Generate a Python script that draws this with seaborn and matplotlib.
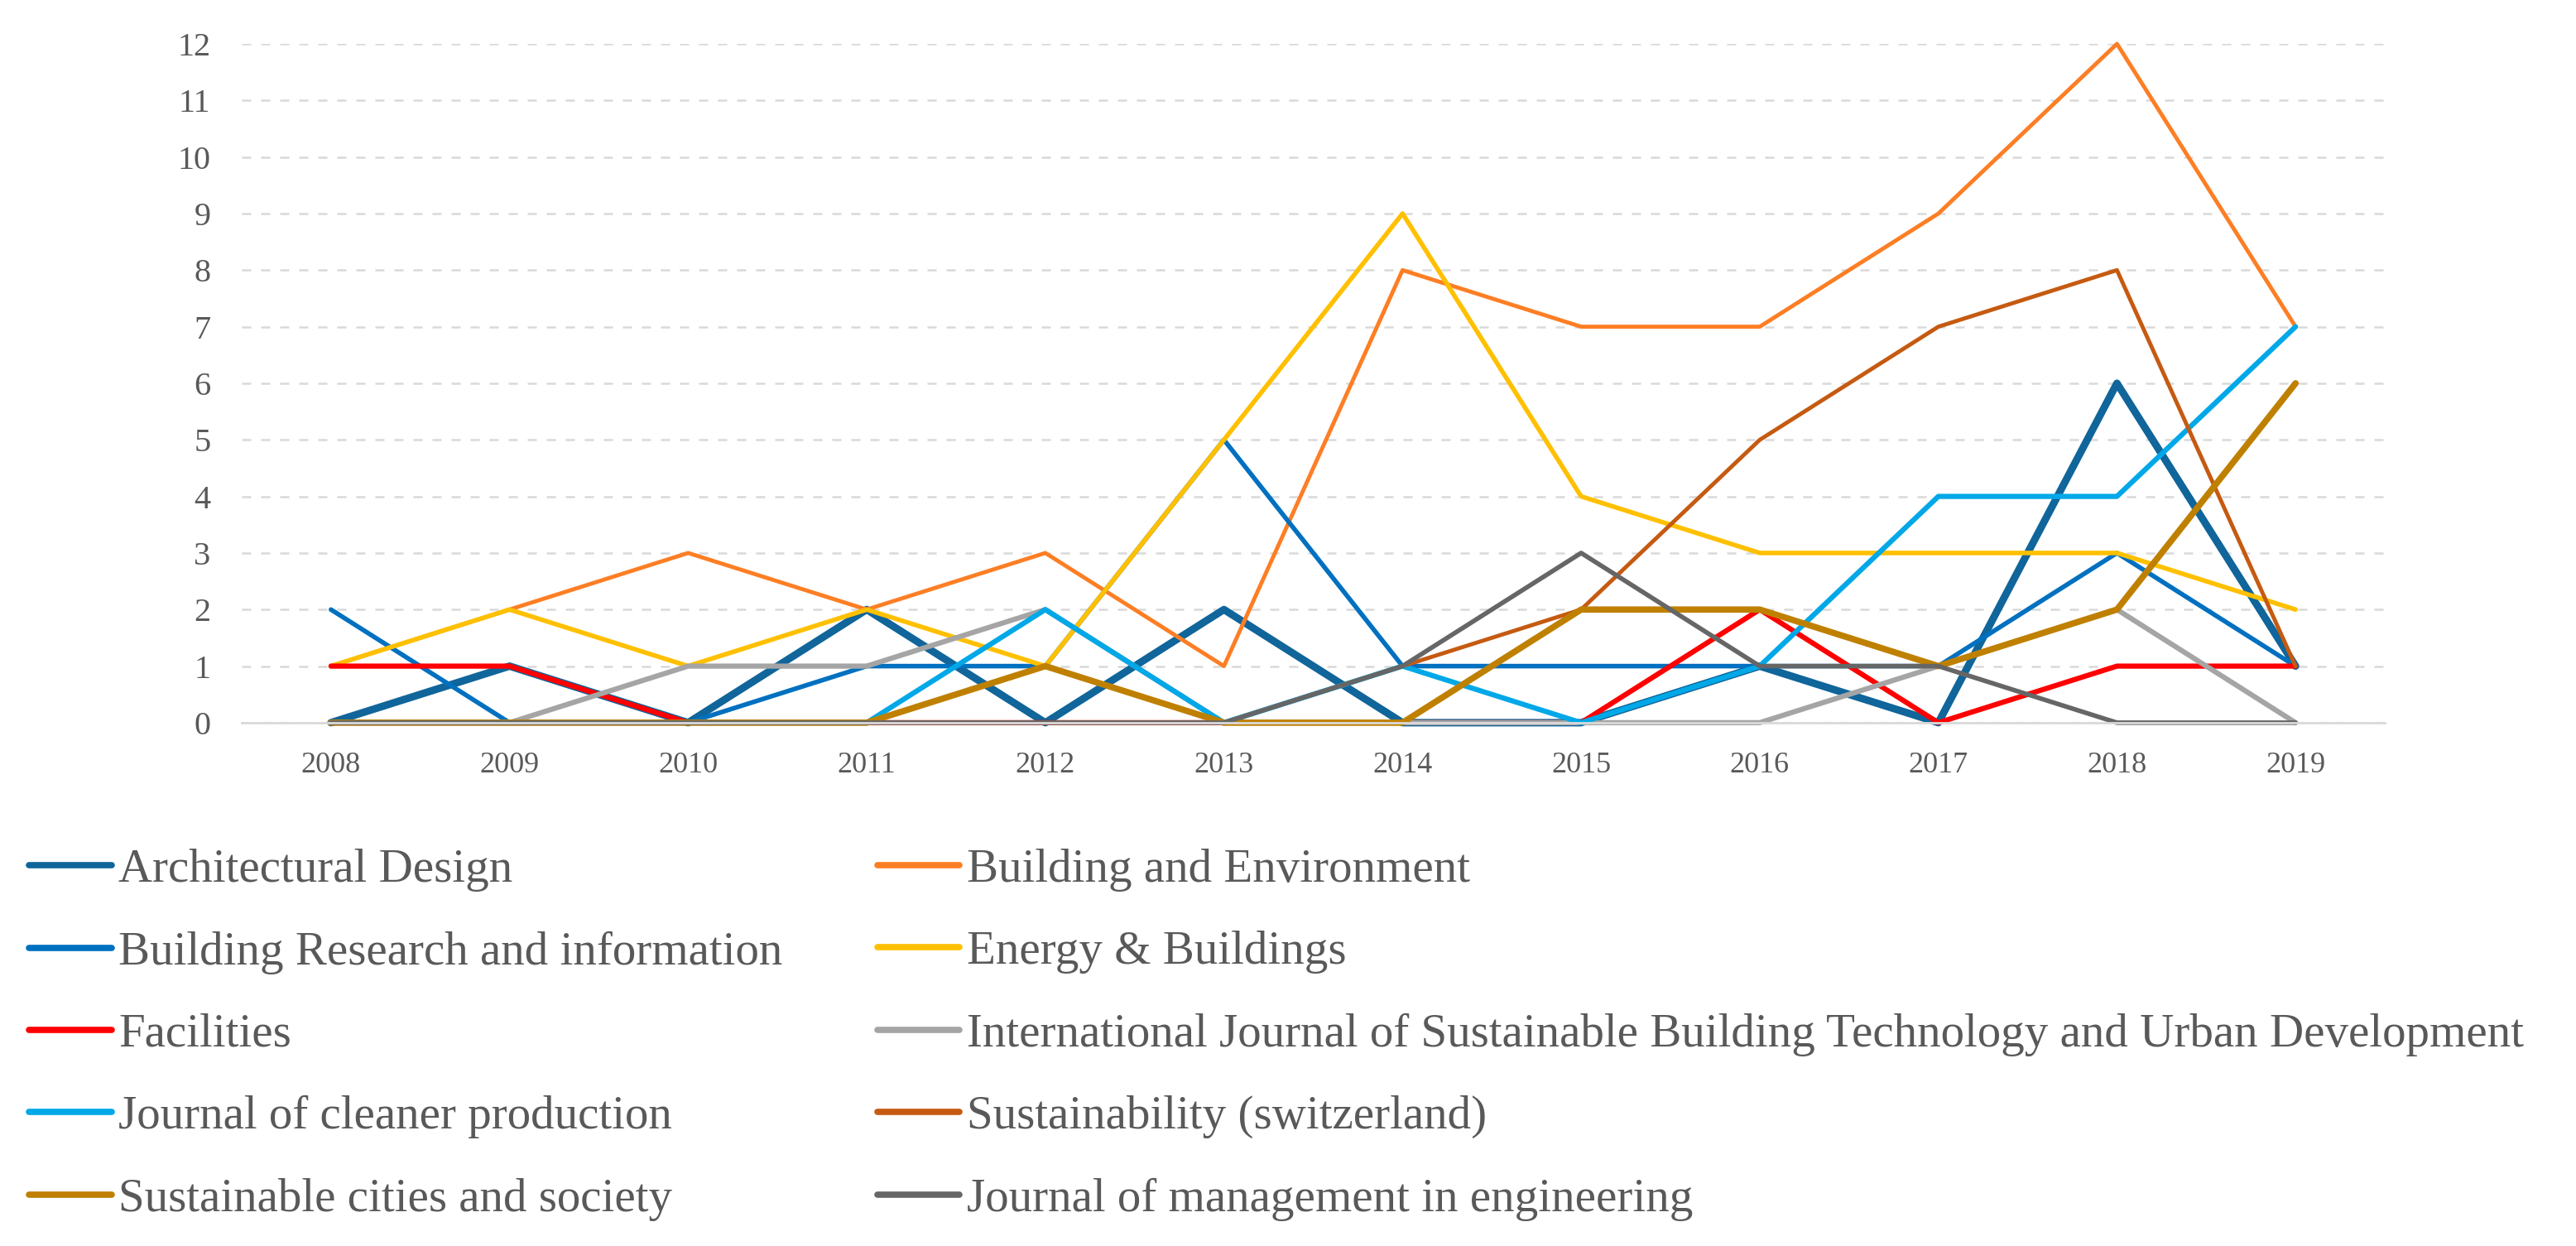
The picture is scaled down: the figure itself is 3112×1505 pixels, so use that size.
import pandas as pd
import numpy as np
import matplotlib
matplotlib.use('Agg')
import matplotlib.pyplot as plt
import seaborn as sns

# datos
anios = [2008, 2009, 2010, 2011, 2012, 2013, 2014, 2015, 2016, 2017, 2018, 2019]

revistas = [
    'Architectural Design',
    'Building and Environment',
    'Building Research and information',
    'Energy & Buildings',
    'Facilities',
    'International Journal of Sustainable Building Technology and Urban Development',
    'Journal of cleaner production',
    'Sustainability (switzerland)',
    'Sustainable cities and society',
    'Journal of management in engineering',
]

architectural_design = [0, 1, 0, 2, 0, 2, 0, 0, 1, 0, 6, 1]
building_environment = [1, 2, 3, 2, 3, 1, 8, 7, 7, 9, 12, 7]
building_research = [2, 0, 0, 1, 1, 5, 1, 1, 1, 1, 3, 1]
energy_buildings = [1, 2, 1, 2, 1, 5, 9, 4, 3, 3, 3, 2]
facilities = [1, 1, 0, 0, 0, 0, 0, 0, 2, 0, 1, 1]
int_journal = [0, 0, 1, 1, 2, 0, 0, 0, 0, 1, 2, 0]
cleaner_production = [0, 0, 0, 0, 2, 0, 1, 0, 1, 4, 4, 7]
sustainability = [0, 0, 0, 0, 0, 0, 1, 2, 5, 7, 8, 1]
sustainable_cities = [0, 0, 0, 0, 1, 0, 0, 2, 2, 1, 2, 6]
management_eng = [0, 0, 0, 0, 0, 0, 1, 3, 1, 1, 0, 0]

valores = [architectural_design, building_environment, building_research, energy_buildings,
           facilities, int_journal, cleaner_production, sustainability,
           sustainable_cities, management_eng]

colores = ['#10659a', '#fd7e24', '#0070c0', '#ffc000', '#ff0000',
           '#a5a5a5', '#00a8e8', '#c55a11', '#bf8000', '#666666']
grosores = [6.5, 3.5, 4, 4, 4.5, 4.5, 4.5, 3.5, 5.5, 4]

df = pd.DataFrame({
    'anio': anios * len(revistas),
    'revista': np.repeat(revistas, len(anios)),
    'valor': sum(valores, []),
})

sns.set_style('white')
plt.rcParams['font.family'] = ['Liberation Serif', 'DejaVu Serif']
gris_texto = '#595959'

fig = plt.figure(figsize=(31.12, 15.05), dpi=100)
ax = fig.add_axes([0.0938, 0.42, 0.832, 0.5448])

for rev, col, lw in zip(revistas, colores, grosores):
    sns.lineplot(data=df[df['revista'] == rev], x='anio', y='valor', color=col,
                 linewidth=lw, label=rev, ax=ax, clip_on=False)

ax.set_xlim(2007.5, 2019.5)
ax.set_ylim(0, 12)
ax.set_xticks(anios)
ax.set_yticks(range(0, 13))
ax.tick_params(axis='x', labelsize=26, colors=gris_texto, length=0, pad=25)
ax.tick_params(axis='y', labelsize=29, colors=gris_texto, length=0, pad=27)
ax.yaxis.grid(True, color='#d9d9d9', linestyle=(0, (4.4, 4.8)), linewidth=1.8)
ax.set_axisbelow(True)
ax.set_xlabel('')
ax.set_ylabel('')
for lado in ['top', 'right', 'left']:
    ax.spines[lado].set_visible(False)
ax.spines['bottom'].set_color('#d9d9d9')
ax.spines['bottom'].set_linewidth(2)

handles, labels = ax.get_legend_handles_labels()
ax.get_legend().remove()
# orden por filas como en el original (2 columnas)
orden = [0, 2, 4, 6, 8, 1, 3, 5, 7, 9]
leg = fig.legend([handles[i] for i in orden], [labels[i] for i in orden],
                 loc='upper left', bbox_to_anchor=(0.004, 0.334), ncol=2,
                 frameon=False, fontsize=41, handlelength=1.75, handletextpad=0.15,
                 columnspacing=2.0, labelspacing=0.83, borderaxespad=0)
for t in leg.get_texts():
    t.set_color(gris_texto)
for h in leg.get_lines():
    h.set_linewidth(5.5)

fig.savefig('out.png', dpi=100, facecolor='white')
